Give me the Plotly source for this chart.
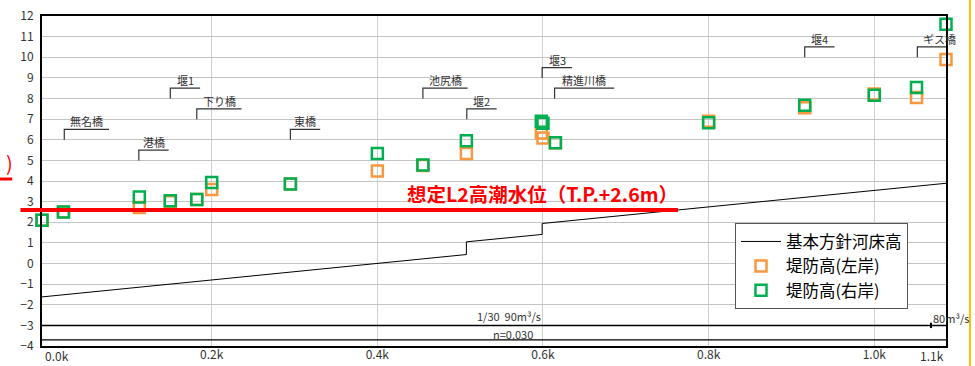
import plotly.graph_objects as go

# --- Levee crest elevations along the river (distance in km, T.P. m) ---
station_km = [-0.0049, 0.021, 0.1126, 0.150, 0.182, 0.200, 0.295, 0.400, 0.455,
              0.5075, 0.598, 0.600, 0.615, 0.800, 0.916, 1.000, 1.051, 1.0866]
levee_left = [2.1, 2.5, 2.72, 3.0, 3.1, 3.59, 3.85, 4.48, 4.75,
              5.33, 6.33, 6.09, 5.85, 6.9, 7.55, 8.22, 8.05, 9.89]
levee_right = [2.1, 2.5, 3.23, 3.04, 3.1, 3.93, 3.85, 5.33, 4.77,
               5.95, 6.9, 6.8, 5.85, 6.82, 7.67, 8.16, 8.53, 11.6]

# --- Planned riverbed profile (with steps at the weirs) ---
bed_km = [-0.0049, 0.5075, 0.5075, 0.599, 0.599, 1.0866]
bed_elev = [-1.62, 0.435, 1.05, 1.41, 1.94, 3.89]

# --- Structures along the river ---
struct_names = ["無名橋", "港橋", "堰1", "下り橋", "東橋", "池尻橋",
                "堰2", "堰3", "精進川橋", "堰4", "ギス橋"]
struct_km = [0.022, 0.112, 0.150, 0.182, 0.295, 0.455,
             0.508, 0.599, 0.614, 0.916, 1.052]
struct_elev = [6.0, 5.0, 8.0, 7.0, 6.0, 8.0, 7.0, 9.0, 8.0, 10.0, 10.0]

# --- Design storm tide level ---
tide_level = 2.6
tide_label = "想定L2高潮水位（T.P.+2.6m）"

# --- Axes ---
x_range = [-0.0049, 1.0866]
y_range = [-4, 12]
x_tick_vals = [0.2, 0.4, 0.6, 0.8, 1.0]
x_tick_text = ["0.2k", "0.4k", "0.6k", "0.8k", "1.0k"]
x_end_labels = [(0.0138, "0.0k"), (1.0697, "1.1k")]
y_tick_vals = list(range(-4, 13))

# --- Hydraulic conditions band ---
band_top, band_mid = -3.0, -3.7
flow_break_km = 1.0685

JP = "Noto Sans CJK JP"
ORANGE = "#F7983F"
GREEN = "#00B050"

fig = go.Figure()

fig.add_trace(go.Scatter(
    x=bed_km, y=bed_elev, mode="lines", name="基本方針河床高",
    line=dict(color="black", width=1), hoverinfo="skip"))

fig.add_trace(go.Scatter(
    x=station_km, y=levee_left, mode="markers", name="堤防高(左岸)",
    marker=dict(symbol="square-open", size=11, color=ORANGE,
                line=dict(width=2.5, color=ORANGE)),
    cliponaxis=False))

fig.add_trace(go.Scatter(
    x=station_km, y=levee_right, mode="markers", name="堤防高(右岸)",
    marker=dict(symbol="square-open", size=11, color=GREEN,
                line=dict(width=2.5, color=GREEN)),
    cliponaxis=False))

# structure leader lines: a short riser then a horizontal bar under the name
lead_x, lead_y = [], []
annotations = []
for name, km, el in zip(struct_names, struct_km, struct_elev):
    bar = 0.018 * len(name)
    top = el + 0.5
    lead_x += [km, km, km + bar, None]
    lead_y += [el, top, top, None]
    annotations.append(dict(
        x=km + bar / 2, y=top, xref="x", yref="y", text=name,
        showarrow=False, yanchor="bottom", xanchor="center", yshift=-2,
        font=dict(family=JP, size=11, color="#333333")))

fig.add_trace(go.Scatter(
    x=lead_x, y=lead_y, mode="lines", showlegend=False,
    line=dict(color="#333333", width=1.2), hoverinfo="skip"))

# tide level line and label
fig.add_shape(type="line", xref="paper", yref="y",
              x0=-0.0238, x1=0.7035, y0=tide_level, y1=tide_level,
              line=dict(color="#FF0000", width=4))
annotations.append(dict(
    x=0.599, y=tide_level + 0.8, xref="x", yref="y", text=tide_label,
    showarrow=False, font=dict(family=JP, size=19.5, color="#FF0000", weight="bold")))

# fragments of a neighbouring label at the left edge
annotations.append(dict(
    x=-0.0415, y=0.556, xref="paper", yref="paper", text=")",
    showarrow=False, font=dict(family=JP, size=20, color="#FF0000")))
fig.add_shape(type="line", xref="paper", yref="paper",
              x0=-0.047, x1=-0.033, y0=0.506, y1=0.506,
              line=dict(color="#FF0000", width=3))

# hydraulic conditions band at the bottom
for yv, w in [(band_top, 1.5), (band_mid, 1.2)]:
    fig.add_shape(type="line", xref="paper", yref="y", x0=0, x1=1,
                  y0=yv, y1=yv, line=dict(color="black", width=w))
fig.add_shape(type="line", xref="x", yref="y",
              x0=flow_break_km, x1=flow_break_km, y0=-2.87, y1=-3.13,
              line=dict(color="black", width=2))
annotations += [
    dict(x=0.6, y=-2.55, xref="x", yref="y", text="1/30  90m³/s",
         showarrow=False, xanchor="right",
         font=dict(family=JP, size=11, color="#333333")),
    dict(x=0.564, y=-3.42, xref="x", yref="y", text="n=0.030",
         showarrow=False, font=dict(family=JP, size=11, color="#333333")),
    dict(x=1.069, y=-2.65, xref="x", yref="y", text="80m³/s",
         showarrow=False, xanchor="left",
         font=dict(family=JP, size=11, color="#333333")),
]

# end-of-reach distance labels
for xv, txt in x_end_labels:
    annotations.append(dict(
        x=xv, y=0, xref="x", yref="paper", text=txt, showarrow=False,
        yanchor="top", yshift=1,
        font=dict(family=JP, size=12, color="#333333")))

# page edge rule on the right
fig.add_shape(type="line", xref="paper", yref="paper",
              x0=1.0265, x1=1.0265, y0=-0.1, y1=1.1,
              line=dict(color="#FFC000", width=2))

fig.update_layout(
    width=975, height=366,
    margin=dict(l=42, r=29, t=16, b=20),
    paper_bgcolor="white", plot_bgcolor="white",
    font=dict(family=JP, color="#333333"),
    annotations=annotations,
    legend=dict(x=0.7666, y=0.372, xanchor="left", yanchor="top",
                bgcolor="white", bordercolor="#555555", borderwidth=1,
                font=dict(family=JP, size=16.5, color="black"),
                tracegroupgap=0, itemwidth=40),
    xaxis=dict(range=x_range, tickvals=x_tick_vals, ticktext=x_tick_text,
               showgrid=True, gridcolor="#CFCFCF", gridwidth=1,
               showline=True, mirror=True, linecolor="black", linewidth=2,
               zeroline=False, ticks="", automargin=False, ticklabelstandoff=-3,
               tickfont=dict(family=JP, size=12, color="#333333")),
    yaxis=dict(range=y_range, tickvals=y_tick_vals,
               showgrid=True, gridcolor="#C4C4C4", gridwidth=1,
               showline=True, mirror=True, linecolor="black", linewidth=2,
               zeroline=False, ticks="", ticklabelstandoff=4, automargin=False,
               tickfont=dict(family=JP, size=12, color="#333333")),
)

fig.write_html("out.html")
